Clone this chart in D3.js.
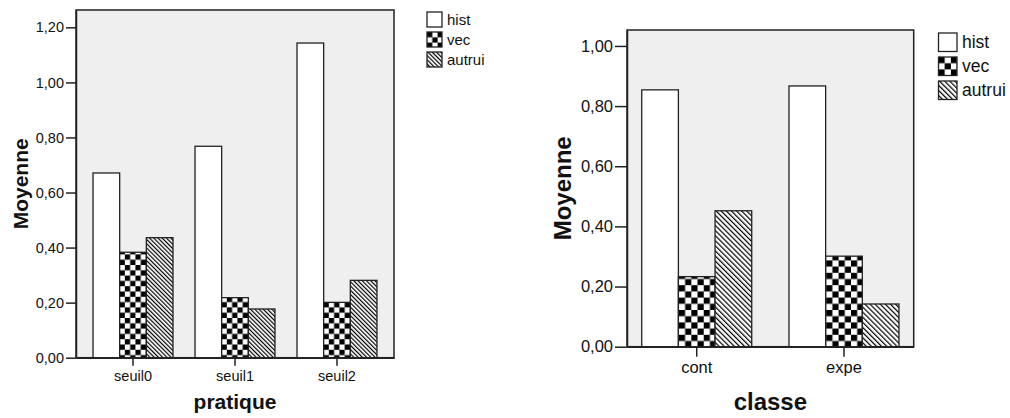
<!DOCTYPE html>
<html>
<head>
<meta charset="utf-8">
<script src="https://cdn.jsdelivr.net/npm/d3@7"></script>
<style>
  body { margin: 0; background: #fff; }
  svg { display: block; font-family: "Liberation Sans", Arial, sans-serif; }
</style>
</head>
<body>
<svg width="1010" height="418"></svg>
<script>
// series shared by both charts
var seriesNames = ["hist", "vec", "autrui"];

// left chart : Moyenne by pratique
var pratiqueCats = ["seuil0", "seuil1", "seuil2"];
var pratiqueHist = [0.671, 0.768, 1.143];
var pratiqueVec = [0.383, 0.218, 0.201];
var pratiqueAutrui = [0.436, 0.177, 0.281];
var pratiqueTicks = [0, 0.2, 0.4, 0.6, 0.8, 1.0, 1.2];

// right chart : Moyenne by classe
var classeCats = ["cont", "expe"];
var classeHist = [0.854, 0.867];
var classeVec = [0.233, 0.301];
var classeAutrui = [0.452, 0.142];
var classeTicks = [0, 0.2, 0.4, 0.6, 0.8, 1.0];

var svg = d3.select("svg");
var defs = svg.append("defs");
var ink = "#222";
var fr = d3.formatLocale({decimal: ",", thousands: " ", grouping: [3], currency: ["", "€"]});
var fmt = fr.format(".2f");

// fill patterns (checker + diagonal hatch), one set per chart size
function makePatterns(id, sq, gap) {
  var chk = defs.append("pattern").attr("id", "chk" + id)
    .attr("patternUnits", "userSpaceOnUse")
    .attr("width", sq * 2).attr("height", sq * 2);
  chk.append("rect").attr("width", sq * 2).attr("height", sq * 2).attr("fill", "#fff");
  chk.append("rect").attr("width", sq).attr("height", sq).attr("fill", "#000");
  chk.append("rect").attr("x", sq).attr("y", sq).attr("width", sq).attr("height", sq).attr("fill", "#000");

  var hat = defs.append("pattern").attr("id", "hat" + id)
    .attr("patternUnits", "userSpaceOnUse")
    .attr("width", gap).attr("height", gap)
    .attr("patternTransform", "rotate(-45)");
  hat.append("rect").attr("width", gap).attr("height", gap).attr("fill", "#fff");
  hat.append("line").attr("x1", 0.6).attr("x2", 0.6).attr("y1", 0).attr("y2", gap)
    .attr("stroke", "#000").attr("stroke-width", 1.2);
}

function drawChart(c) {
  makePatterns(c.id, c.sq, c.gap);
  var fills = ["#fff", "url(#chk" + c.id + ")", "url(#hat" + c.id + ")"];
  var g = svg.append("g");

  var x = d3.scaleBand().domain(c.cats).range([c.left, c.right])
    .paddingInner(c.padIn).paddingOuter(c.padOut);
  var xs = d3.scaleBand().domain(seriesNames).range([0, x.bandwidth()]);
  var y = d3.scaleLinear().domain([0, c.ymax]).range([c.bottom, c.top]);

  g.append("rect")
    .attr("x", c.left).attr("y", c.top)
    .attr("width", c.right - c.left).attr("height", c.bottom - c.top)
    .attr("fill", "#efefef").attr("stroke", ink).attr("stroke-width", 1.5);

  var rows = c.cats.map(function(cat, i) {
    return {cat: cat, vals: c.series.map(function(s) { return s[i]; })};
  });

  var grp = g.selectAll(".grp").data(rows).enter().append("g")
    .attr("transform", function(d) { return "translate(" + x(d.cat) + ",0)"; });
  grp.selectAll("rect")
    .data(function(d) { return d.vals.map(function(v, k) { return {k: k, v: v}; }); })
    .enter().append("rect")
    .attr("x", function(d) { return xs(seriesNames[d.k]); })
    .attr("y", function(d) { return y(d.v); })
    .attr("width", xs.bandwidth())
    .attr("height", function(d) { return c.bottom - y(d.v); })
    .attr("fill", function(d) { return fills[d.k]; })
    .attr("stroke", ink).attr("stroke-width", 1.3);

  // y axis
  var ya = g.append("g").attr("transform", "translate(" + c.left + ",0)")
    .call(d3.axisLeft(y).tickValues(c.ticks).tickFormat(fmt)
      .tickSize(c.tick).tickPadding(2).tickSizeOuter(0));
  ya.select(".domain").attr("stroke", ink).attr("stroke-width", 1.5);
  ya.selectAll(".tick line").attr("stroke", ink).attr("stroke-width", 1.5);
  ya.selectAll(".tick text").attr("font-size", c.fs).attr("fill", "#111")
    .attr("font-family", "Liberation Sans, Arial, sans-serif");

  // x axis
  var xa = g.append("g").attr("transform", "translate(0," + c.bottom + ")")
    .call(d3.axisBottom(x).tickSize(c.tick - 2).tickPadding(c.xpad).tickSizeOuter(0));
  xa.select(".domain").attr("stroke", ink).attr("stroke-width", 1.5);
  xa.selectAll(".tick line").attr("stroke", ink).attr("stroke-width", 1.5);
  xa.selectAll(".tick text").attr("font-size", c.fs).attr("fill", "#111")
    .attr("font-family", "Liberation Sans, Arial, sans-serif");

  // axis titles
  g.append("text")
    .attr("x", (c.left + c.right) / 2).attr("y", c.xtitleY)
    .attr("text-anchor", "middle").attr("font-weight", "bold")
    .attr("font-size", c.tfs).attr("fill", "#111")
    .text(c.xtitle);
  g.append("text")
    .attr("transform", "translate(" + c.ytitleX + "," + ((c.top + c.bottom) / 2) + ") rotate(-90)")
    .attr("text-anchor", "middle").attr("font-weight", "bold")
    .attr("font-size", c.tfs).attr("fill", "#111")
    .text("Moyenne");

  // legend
  var lg = g.selectAll(".leg").data(seriesNames).enter().append("g")
    .attr("transform", function(d, i) { return "translate(" + c.legX + "," + (c.legY + i * c.legStep) + ")"; });
  lg.append("rect")
    .attr("width", c.legBox).attr("height", c.legBox)
    .attr("fill", function(d, i) { return fills[i]; })
    .attr("stroke", ink).attr("stroke-width", 1.3);
  lg.append("text")
    .attr("x", c.legBox + 5).attr("y", c.legBox / 2)
    .attr("dy", "0.35em")
    .attr("font-size", c.lfs).attr("fill", "#111")
    .text(function(d) { return d; });
}

drawChart({
  id: "L", cats: pratiqueCats, series: [pratiqueHist, pratiqueVec, pratiqueAutrui],
  ticks: pratiqueTicks, ymax: 1.263,
  left: 76, right: 394, top: 10, bottom: 357.7,
  padIn: 0.216, padOut: 0.167,
  sq: 5.3, gap: 3.0, tick: 10, xpad: 5,
  fs: 14.5, tfs: 21, lfs: 15,
  xtitle: "pratique", xtitleY: 409, ytitleX: 28,
  legX: 427, legY: 12, legStep: 20, legBox: 15
});

drawChart({
  id: "R", cats: classeCats, series: [classeHist, classeVec, classeAutrui],
  ticks: classeTicks, ymax: 1.053,
  left: 627, right: 913.7, top: 30, bottom: 346.7,
  padIn: 0.253, padOut: 0.1,
  sq: 6.2, gap: 3.6, tick: 12, xpad: 5,
  fs: 16.5, tfs: 24, lfs: 17.5,
  xtitle: "classe", xtitleY: 410, ytitleX: 571,
  legX: 938.5, legY: 33, legStep: 24, legBox: 18.5
});
</script>
</body>
</html>
